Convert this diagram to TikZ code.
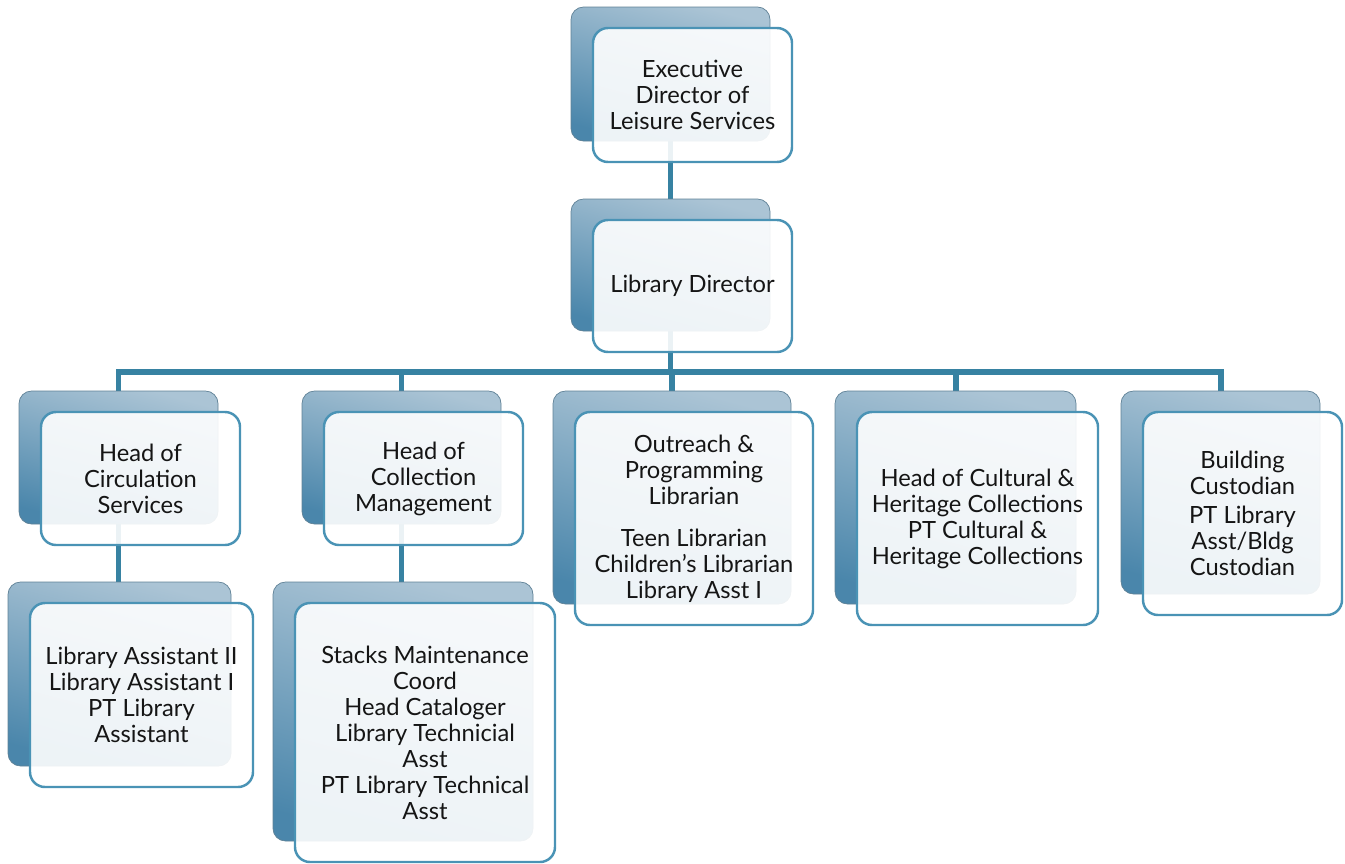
\documentclass[tikz,border=0pt]{standalone}
\usepackage{fontspec}
\setmainfont{Lato}
\usetikzlibrary{backgrounds}
\definecolor{linkc}{HTML}{3782A2}
\definecolor{edgec}{HTML}{4A93B5}
\definecolor{backlight}{HTML}{ABC4D5}
\definecolor{backdark}{HTML}{4A86AB}
\definecolor{backedge}{HTML}{5F8196}
\definecolor{textc}{HTML}{151515}
\def\pxl{0.02cm}
\tikzset{
  card/.style={
    draw=edgec,
    line width=1.4pt,
    rounded corners=0.3cm,
    fill=white,
    fill opacity=0.9,
    text opacity=1,
    text=textc,
    align=center,
    inner sep=2pt,
    font=\fontsize{13.5}{14.8}\selectfont,
  },
  backcard/.style={
    draw=backedge,
    line width=0.4pt,
    rounded corners=0.25cm,
    top color=backlight,
    bottom color=backdark,
    shading angle=-15,
  },
  link/.style={
    draw=linkc,
    line width=3.4pt,
  },
}
% card with its shaded shadow box: name, x, y, width, height, text
\newcommand{\orgcard}[6]{%
  \node[backcard, minimum width=#4*\pxl, minimum height=#5*\pxl] (#1-b) at (#2-22,#3-21) {};
  \node[card, minimum width=#4*\pxl, minimum height=#5*\pxl] (#1) at (#2,#3) {#6};
}

\begin{document}
\begin{tikzpicture}[x=0.02cm, y=-0.02cm]
  \useasboundingbox (0,0) rectangle (1345,863);

  % Top of the chart
  \orgcard{exec}{692.5}{95}{199}{134}{Executive\\Director of\\Leisure Services}
  \orgcard{libdir}{692.5}{286}{199}{132}{Library Director}

  % Department heads
  \orgcard{circ}{140.5}{478.5}{199}{133}{Head of\\Circulation\\Services}
  \orgcard{coll}{423.5}{478.5}{199}{133}{Head of\\Collection\\Management}
  \orgcard{outr}{694}{518.5}{238}{213}{Outreach \&\\Programming\\Librarian\\[9pt]Teen Librarian\\Children's Librarian\\Library Asst I}
  \orgcard{cult}{977.5}{518.5}{241}{213}{\fontsize{13.5}{13.8}\selectfont Head of Cultural \&\\Heritage Collections\\PT Cultural \&\\Heritage Collections}
  \orgcard{bldg}{1242.5}{513.5}{199}{203}{Building\\Custodian\\[2pt]PT Library\\Asst/Bldg\\Custodian}

  % Staff
  \orgcard{circstaff}{141.5}{695}{223}{184}{Library Assistant II\\Library Assistant I\\PT Library\\Assistant}
  \orgcard{collstaff}{425}{732.5}{260}{259}{\fontsize{13.5}{14}\selectfont Stacks Maintenance\\Coord\\Head Cataloger\\Library Technicial\\Asst\\PT Library Technical\\Asst}

  % Connectors
  \begin{scope}[on background layer]
    \coordinate (bus) at (672,372);
    \draw[link] (exec-b) -- (libdir-b);
    \foreach \c in {circ,coll,outr,cult,bldg}
      \draw[link] (libdir-b.center) -- (libdir-b.center |- bus) -| (\c-b.north);
    \draw[link] (circ-b.center) -- (circ-b.center |- circstaff-b.north);
    \draw[link] (coll-b.center) -- (coll-b.center |- collstaff-b.north);
  \end{scope}
\end{tikzpicture}
\end{document}
